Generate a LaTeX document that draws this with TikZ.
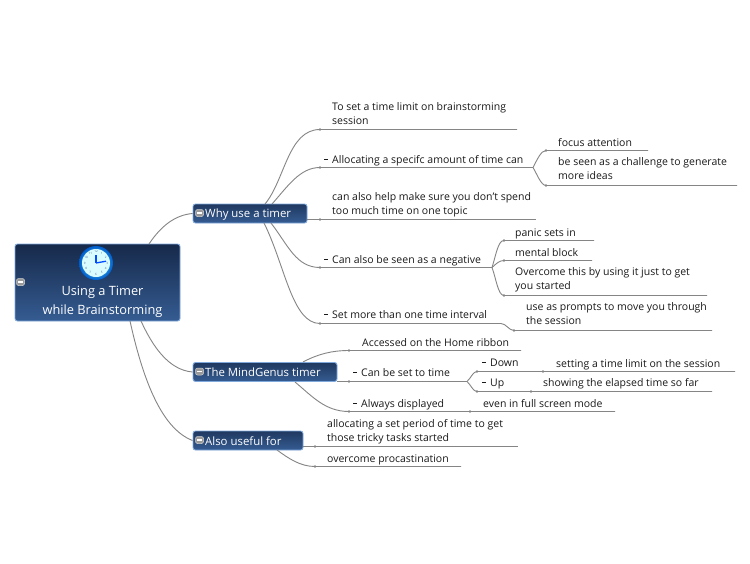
\documentclass[tikz,border=0pt]{standalone}
\usepackage{fontspec}
\setmainfont{Open Sans}
\usetikzlibrary{calc}
\definecolor{linec}{HTML}{858585}
\definecolor{txtc}{HTML}{1A1A1A}
\definecolor{topA}{HTML}{16294A}
\definecolor{topB}{HTML}{355C92}
\definecolor{edgeb}{HTML}{7FA8DC}
\tikzset{
  conn/.style={draw=linec,line width=0.9pt},
  lbl/.style={anchor=west,inner sep=0pt,align=left,text=txtc,yshift=-1.5pt,
    font=\fontsize{10.5}{14}\selectfont,
    execute at begin node={\rule{0pt}{8pt}},execute at end node={\rule[-3pt]{0pt}{3pt}}},
  topicbox/.style={draw=edgeb,line width=0.9pt,rounded corners=2.5pt,top color=topA!70!topB,bottom color=topB,
    inner sep=0pt,minimum height=19pt},
  toptxt/.style={anchor=west,inner sep=0pt,text=white,font=\fontsize{11.4}{14}\selectfont},
  nub/.style={circle,fill=linec,inner sep=0pt,minimum size=2.6pt},
  minusbox/.style={rounded corners=2pt,fill=gray!80!white,draw=gray!35!white,line width=0.5pt,inner sep=0pt,minimum width=8pt,minimum height=7pt},
  minusbar/.style={draw=white,line width=1.3pt},
  dashm/.style={draw=txtc,line width=0.7pt},
  clocknum/.style={inner sep=0pt,text=black!45!cyan!60!blue,font=\fontsize{3}{3}\selectfont}
}
\begin{document}
\begin{tikzpicture}[x=1pt,y=-1pt]
\useasboundingbox[fill=white] (0,0) rectangle (750,563);
% boxes
\node[topicbox,top color=topA,minimum width=165pt,minimum height=77pt] (root) at (97.5,282.5) {};
\node[topicbox,minimum width=114pt] (why) at (250,213.5) {};
\node[topicbox,minimum width=144pt] (mind) at (265,372) {};
\node[topicbox,minimum width=110pt] (also) at (248,440.5) {};
% root connectors
\coordinate (r1) at (149,244);
\coordinate (r2) at (141,321);
\coordinate (r3) at (130,321);
\draw[conn] (r1) .. controls (161,226) and (175,215) .. (why.west);
\draw[conn] (r2) .. controls (152,345) and (168,370) .. (mind.west);
\draw[conn] (r3) .. controls (142,375) and (160,428) .. (also.west);
% labels
\node[lbl] (a1) at (332,114) {To set a time limit on brainstorming\\session};
\node[lbl] (a2) at (332,159) {Allocating a specifc amount of time can};
\node[lbl] (a3) at (332,204) {can also help make sure you don't spend\\too much time on one topic};
\node[lbl] (a4) at (332,259) {Can also be seen as a negative};
\node[lbl] (a5) at (332,314) {Set more than one time interval};
\node[lbl] (b1) at (558,142) {focus attention};
\node[lbl] (b2) at (558,169) {be seen as a challenge to generate\\more ideas};
\node[lbl] (c1) at (515,232) {panic sets in};
\node[lbl] (c2) at (515,252) {mental block};
\node[lbl] (c3) at (515,279) {Overcome this by using it just to get\\you started};
\node[lbl] (d1) at (526,314) {use as prompts to move you through\\the session};
\node[lbl] (e1) at (362,342) {Accessed on the Home ribbon};
\node[lbl] (e2) at (361,372) {Can be set to time};
\node[lbl] (e3) at (361,403) {Always displayed};
\node[lbl] (f1) at (490,362) {Down};
\node[lbl] (f2) at (490,382) {Up};
\node[lbl] (g1) at (556,363) {setting a time limit on the session};
\node[lbl] (g2) at (543,382) {showing the elapsed time so far};
\node[lbl] (g3) at (483,403) {even in full screen mode};
\node[lbl] (h1) at (327,430) {allocating a set period of time to get\\those tricky tasks started};
\node[lbl] (h2) at (327,458) {overcome procastination};
% dash markers
\foreach \n in {a2,a4,a5,e2,e3,f1,f2}{
  \draw[dashm] ([xshift=-8pt,yshift=1.5pt]\n.west) -- ([xshift=-4pt,yshift=1.5pt]\n.west);
}
% nubs on the underlines
\node[nub] (na1) at (320,129.5) {};
\node[nub] (na2) at (320,167.5) {};
\node[nub] (na3) at (320,219.5) {};
\node[nub] (na4) at (320,267.5) {};
\node[nub] (na5) at (320,323.5) {};
\node[nub] (nb1) at (546,150.5) {};
\node[nub] (nb2) at (546,185.5) {};
\node[nub] (nc1) at (504,240.5) {};
\node[nub] (nc2) at (504,260.5) {};
\node[nub] (nc3) at (504,295.5) {};
\node[nub] (nd1) at (514,330.5) {};
\node[nub] (ne1) at (349,350.5) {};
\node[nub] (ne2) at (349,381.5) {};
\node[nub] (ne3) at (349,411.5) {};
\node[nub] (nf1) at (477,371.5) {};
\node[nub] (nf2) at (477,391.5) {};
\node[nub] (ng1) at (543,371.5) {};
\node[nub] (ng2) at (531,391.5) {};
\node[nub] (ng3) at (470,411.5) {};
\node[nub] (nh1) at (315,446.5) {};
\node[nub] (nh2) at (315,466.5) {};
% ends / forks
\coordinate (ea1) at (517,129.5);
\coordinate (fa2) at (533,167.5);
\coordinate (eb1) at (648,150.5);
\coordinate (eb2) at (737,185.5);
\coordinate (ea3) at (536,219.5);
\coordinate (fa4) at (492,267.5);
\coordinate (ec1) at (594,240.5);
\coordinate (ec2) at (592,260.5);
\coordinate (ec3) at (707,295.5);
\coordinate (fa5) at (501,323.5);
\coordinate (ed1) at (712,330.5);
\coordinate (ee1) at (521,350.5);
\coordinate (fe2) at (467,381.5);
\coordinate (eg1) at (735,371.5);
\coordinate (eg2) at (712,391.5);
\coordinate (eg3) at (615,411.5);
\coordinate (eh1) at (518,446.5);
\coordinate (eh2) at (461,466.5);
% start points on topics
\coordinate (w1) at (265,204);
\coordinate (w2) at (272,204);
\coordinate (w3) at (307,219.5);
\coordinate (w4) at (271,223);
\coordinate (w5) at (264,223);
\coordinate (m1) at (303,362);
\coordinate (m2) at (337,381.5);
\coordinate (m3) at (295,382);
\coordinate (s1) at (303,446.5);
\coordinate (s2) at (277,450);
% why branch
\draw[conn] (w1) .. controls (285,180) and (288,129.5) .. (na1.center) -- (ea1);
\draw[conn] (w2) .. controls (288,186) and (300,167.5) .. (na2.center) -- (fa2);
\draw[conn] (w3) -- (na3.center) -- (ea3);
\draw[conn] (w4) .. controls (288,245) and (296,267.5) .. (na4.center) -- (fa4);
\draw[conn] (w5) .. controls (285,265) and (292,323.5) .. (na5.center) -- (fa5);
\draw[conn] (fa2) .. controls (537,160) and (541,150.5) .. (nb1.center) -- (eb1);
\draw[conn] (fa2) .. controls (537,174) and (541,185.5) .. (nb2.center) -- (eb2);
\draw[conn] (fa4) .. controls (496,255) and (498,240.5) .. (nc1.center) -- (ec1);
\draw[conn] (fa4) .. controls (496,264) and (499,260.5) .. (nc2.center) -- (ec2);
\draw[conn] (fa4) .. controls (496,278) and (498,295.5) .. (nc3.center) -- (ec3);
\draw[conn] (fa5) .. controls (506,323.5) and (509,330.5) .. (nd1.center) -- (ed1);
% mind branch
\draw[conn] (m1) .. controls (318,354) and (332,350.5) .. (ne1.center) -- (ee1);
\draw[conn] (m2) -- (ne2.center) -- (fe2);
\draw[conn] (m3) .. controls (312,396) and (325,411.5) .. (ne3.center) -- (ng3.center) -- (eg3);
\draw[conn] (fe2) .. controls (471,378) and (473,371.5) .. (nf1.center) -- (ng1.center) -- (eg1);
\draw[conn] (fe2) .. controls (471,385) and (473,391.5) .. (nf2.center) -- (ng2.center) -- (eg2);
% also branch
\draw[conn] (s1) -- (nh1.center) -- (eh1);
\draw[conn] (s2) .. controls (288,458) and (300,466.5) .. (nh2.center) -- (eh2);
% topic text
\node[toptxt] (tw) at (205,214.5) {Why use a timer};
\node[toptxt] (tm) at (205,372.5) {The MindGenus timer};
\node[toptxt] (ta) at (205,441) {Also useful for};
\node[inner sep=0pt,align=center,text=white,font=\fontsize{12.8}{19}\selectfont] (tr) at (102.5,301.5) {Using a Timer\\while Brainstorming};
% minus icons
\foreach \n/\x/\y in {mr/20.5/282,mw/199.5/213,mm/199.5/371.5,ma/199.5/440}{
  \node[minusbox] (\n) at (\x,\y) {};
  \draw[minusbar] ([xshift=-2.4pt]\n.center) -- ([xshift=2.4pt]\n.center);
}
% clock
\node[circle,inner sep=0pt,minimum size=34pt,shade,inner color=cyan!55!white,outer color=blue!55!cyan!80!black] (clk) at (96,263) {};
\node[circle,inner sep=0pt,minimum size=28pt,fill=blue!8!cyan!14!white] (face) at (clk.center) {};
\foreach \h in {1,...,12}{
  \node[clocknum] (cn\h) at ($(face.center)+({sin(\h*30)*11.3},{-cos(\h*30)*11.3})$) {\h};
}
\draw[draw=blue!70!cyan,line width=1.1pt] (face.center) -- ++(0,-8.5);
\draw[draw=blue!70!cyan,line width=1.3pt] (face.center) -- ++(10,-1.8);
\end{tikzpicture}
\end{document}
